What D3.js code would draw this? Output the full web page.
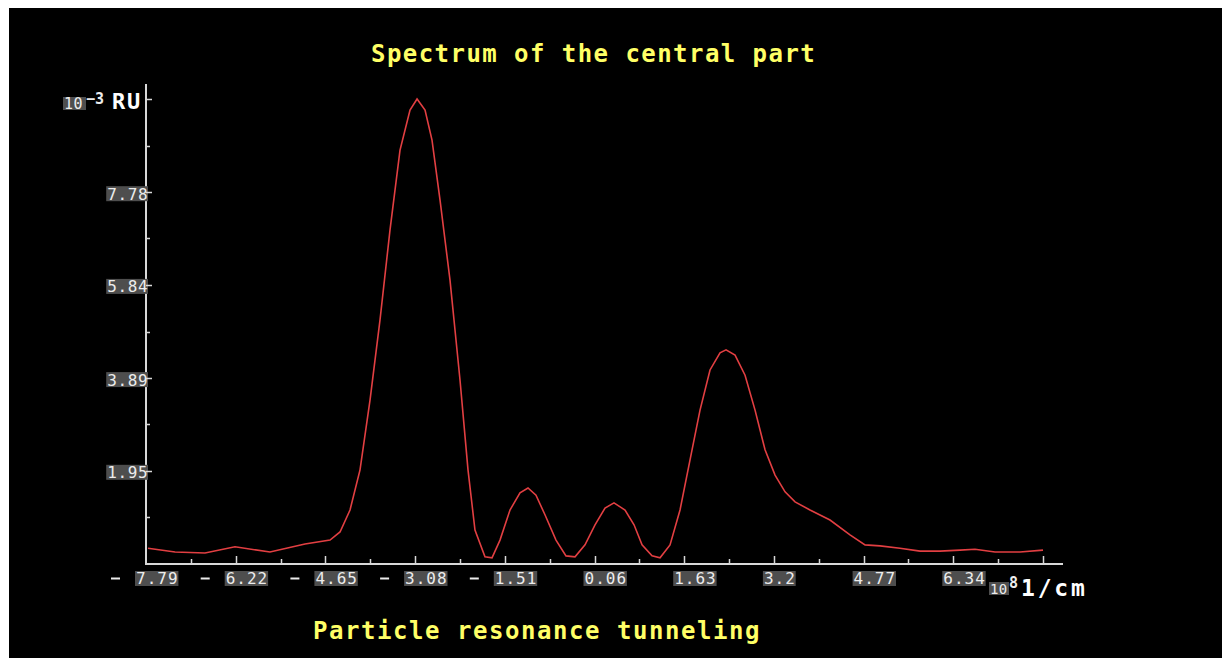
<!DOCTYPE html>
<html>
<head>
<meta charset="utf-8">
<script src="https://cdn.jsdelivr.net/npm/d3@7"></script>
<style>
  html, body { margin: 0; padding: 0; background: #ffffff; }
  svg { display: block; }
  text { font-family: "DejaVu Sans Mono", "Liberation Mono", monospace; }
</style>
</head>
<body>
<div id="chart"></div>
<script>
// ---- data ----
const title = "Spectrum of the central part";
const subtitle = "Particle resonance tunneling";

const xValues = [-7.755, -7.282, -6.757, -6.232, -5.620, -5.007, -4.569, -4.394, -4.219, -4.044,
  -3.869, -3.694, -3.519, -3.344, -3.169, -3.046, -2.906, -2.784, -2.644, -2.469,
  -2.294, -2.154, -2.032, -1.857, -1.734, -1.594, -1.419, -1.244, -1.104, -0.964,
  -0.807, -0.614, -0.439, -0.281, -0.106, 0.069, 0.244, 0.401, 0.594, 0.752,
  0.892, 1.067, 1.207, 1.382, 1.557, 1.732, 1.907, 2.082, 2.257, 2.362,
  2.520, 2.695, 2.870, 3.045, 3.220, 3.395, 3.570, 3.832, 4.182, 4.532,
  4.795, 5.057, 5.407, 5.757, 6.107, 6.457, 6.720, 7.070, 7.508, 7.910];

const yValues = [0.33, 0.25, 0.23, 0.36, 0.25, 0.42, 0.50, 0.67, 1.13, 1.97,
  3.43, 5.11, 6.99, 8.66, 9.50, 9.73, 9.50, 8.87, 7.62, 5.94,
  3.85, 1.97, 0.71, 0.15, 0.13, 0.50, 1.13, 1.49, 1.59, 1.44,
  1.03, 0.50, 0.17, 0.15, 0.40, 0.82, 1.17, 1.28, 1.13, 0.82,
  0.40, 0.17, 0.13, 0.40, 1.13, 2.18, 3.22, 4.06, 4.42, 4.48,
  4.37, 3.95, 3.22, 2.39, 1.86, 1.51, 1.30, 1.13, 0.92, 0.61,
  0.40, 0.38, 0.33, 0.27, 0.27, 0.29, 0.31, 0.25, 0.25, 0.29];

const xTickValues = [-7.79, -6.22, -4.65, -3.08, -1.51, 0.06, 1.63, 3.2, 4.77, 6.34, 7.91];
const xTickLabels = ["7.79", "6.22", "4.65", "3.08", "1.51", "0.06", "1.63", "3.2", "4.77", "6.34", ""];
const xTickSigns = ["-", "-", "-", "-", "-", "", "", "", "", "", ""];
const yTickValues = [0, 1.95, 3.89, 5.84, 7.78, 9.73];
const yTickLabels = ["", "1.95", "3.89", "5.84", "7.78", ""];

// ---- layout ----
const W = 1225, H = 658;
const svg = d3.select("#chart").append("svg").attr("width", W).attr("height", H);

svg.append("rect").attr("x", 9).attr("y", 8).attr("width", 1213).attr("height", 650).attr("fill", "#000");

const x = d3.scaleLinear().domain([-7.79, 7.91]).range([146, 1043]);
const y = d3.scaleLinear().domain([0, 9.73]).range([564, 99]);

const axisColor = "#d8d8d8";
const yellow = "#ffff66";
const labText = "#ececec";
const labBox = "#4e4e4e";

// titles
svg.append("text").text(title)
  .attr("x", 371).attr("y", 62)
  .attr("fill", yellow).attr("font-size", 24).attr("font-weight", "bold")
  .attr("letter-spacing", 1.45);
svg.append("text").text(subtitle)
  .attr("x", 313).attr("y", 639)
  .attr("fill", yellow).attr("font-size", 24).attr("font-weight", "bold")
  .attr("letter-spacing", 1.55);

// axes lines
svg.append("line").attr("x1", 146).attr("x2", 146).attr("y1", 84).attr("y2", 565)
  .attr("stroke", axisColor).attr("stroke-width", 2);
svg.append("line").attr("x1", 145).attr("x2", 1063).attr("y1", 564).attr("y2", 564)
  .attr("stroke", axisColor).attr("stroke-width", 2);

// y ticks: minor
const yStep = yTickValues[1] - yTickValues[0];
const yMinor = yTickValues.slice(0, -1).map(v => v + yStep / 2);
svg.selectAll(".ymin").data(yMinor).join("line")
  .attr("x1", 146).attr("x2", 150).attr("y1", d => Math.round(y(d)) + 0.5).attr("y2", d => Math.round(y(d)) + 0.5)
  .attr("stroke", axisColor).attr("stroke-width", 1.5);

// y labels
const yl = svg.selectAll(".ylab").data(yTickValues.map((v, i) => ({v, t: yTickLabels[i]})).filter(d => d.t))
  .join("g");
yl.append("rect")
  .attr("x", d => 148 - d.t.length * 10.2 - 1).attr("y", d => y(d.v) - 6)
  .attr("width", d => d.t.length * 10.2 + 1).attr("height", 15).attr("fill", labBox);
yl.append("text").text(d => d.t)
  .attr("x", d => 148 - d.t.length * 10.2).attr("y", d => y(d.v) + 7.5)
  .attr("fill", labText).attr("font-size", 16).attr("letter-spacing", 0.6);
// major ticks over boxes
svg.selectAll(".ymaj").data(yTickValues.slice(1)).join("line")
  .attr("x1", 146).attr("x2", 152).attr("y1", d => Math.round(y(d)) + 0.5).attr("y2", d => Math.round(y(d)) + 0.5)
  .attr("stroke", axisColor).attr("stroke-width", 1.5);

// x ticks
const xStep = xTickValues[1] - xTickValues[0];
const xMinor = xTickValues.slice(0, -1).map(v => v + xStep / 2);
svg.selectAll(".xmaj").data(xTickValues.slice(1)).join("line")
  .attr("x1", d => Math.round(x(d)) + 0.5).attr("x2", d => Math.round(x(d)) + 0.5).attr("y1", 564).attr("y2", 556)
  .attr("stroke", axisColor).attr("stroke-width", 1.5);
svg.selectAll(".xmin").data(xMinor).join("line")
  .attr("x1", d => Math.round(x(d)) + 0.5).attr("x2", d => Math.round(x(d)) + 0.5).attr("y1", 564).attr("y2", 559)
  .attr("stroke", axisColor).attr("stroke-width", 1.5);

// x labels
const xl = svg.selectAll(".xlab").data(xTickValues.map((v, i) => ({v, t: xTickLabels[i], s: xTickSigns[i]})).filter(d => d.t))
  .join("g");
xl.append("rect")
  .attr("x", d => x(d.v) - 11).attr("y", 571)
  .attr("width", d => d.t.length * 10.6 + 1).attr("height", 15).attr("fill", labBox);
xl.append("text").text(d => d.t)
  .attr("x", d => x(d.v) - 10).attr("y", 584)
  .attr("fill", labText).attr("font-size", 16).attr("letter-spacing", 1.0);
xl.filter(d => d.s).append("line")
  .attr("x1", d => x(d.v) - 35).attr("x2", d => x(d.v) - 26).attr("y1", 578.5).attr("y2", 578.5)
  .attr("stroke", labText).attr("stroke-width", 2);

// unit labels
const gy = svg.append("g");
gy.append("rect").attr("x", 63).attr("y", 97).attr("width", 23).attr("height", 13).attr("fill", labBox);
gy.append("text").text("10").attr("x", 64).attr("y", 108.5).attr("fill", labText).attr("font-size", 15).attr("letter-spacing", 0.5);
gy.append("text").text("−3").attr("x", 86).attr("y", 103.5).attr("fill", labText).attr("font-size", 15).attr("font-weight", "bold");
gy.append("text").text("RU").attr("x", 112).attr("y", 108.5).attr("fill", "#ffffff")
  .attr("font-size", 22).attr("font-weight", "bold").attr("letter-spacing", 1.8);

const gx = svg.append("g");
gx.append("rect").attr("x", 989).attr("y", 582).attr("width", 20).attr("height", 13).attr("fill", labBox);
gx.append("text").text("10").attr("x", 990).attr("y", 593.5).attr("fill", labText).attr("font-size", 14).attr("letter-spacing", 0.3);
gx.append("text").text("8").attr("x", 1009).attr("y", 588).attr("fill", labText).attr("font-size", 15).attr("font-weight", "bold");
gx.append("text").text("1/cm").attr("x", 1021).attr("y", 596).attr("fill", "#ffffff")
  .attr("font-size", 23).attr("font-weight", "bold").attr("letter-spacing", 2.8);

// spectrum line
const pts = xValues.map((v, i) => [v, yValues[i]]);
svg.append("path").datum(pts)
  .attr("d", d3.line().x(d => x(d[0])).y(d => y(d[1])))
  .attr("fill", "none").attr("stroke", "#e23f42").attr("stroke-width", 1.6);
</script>
</body>
</html>
